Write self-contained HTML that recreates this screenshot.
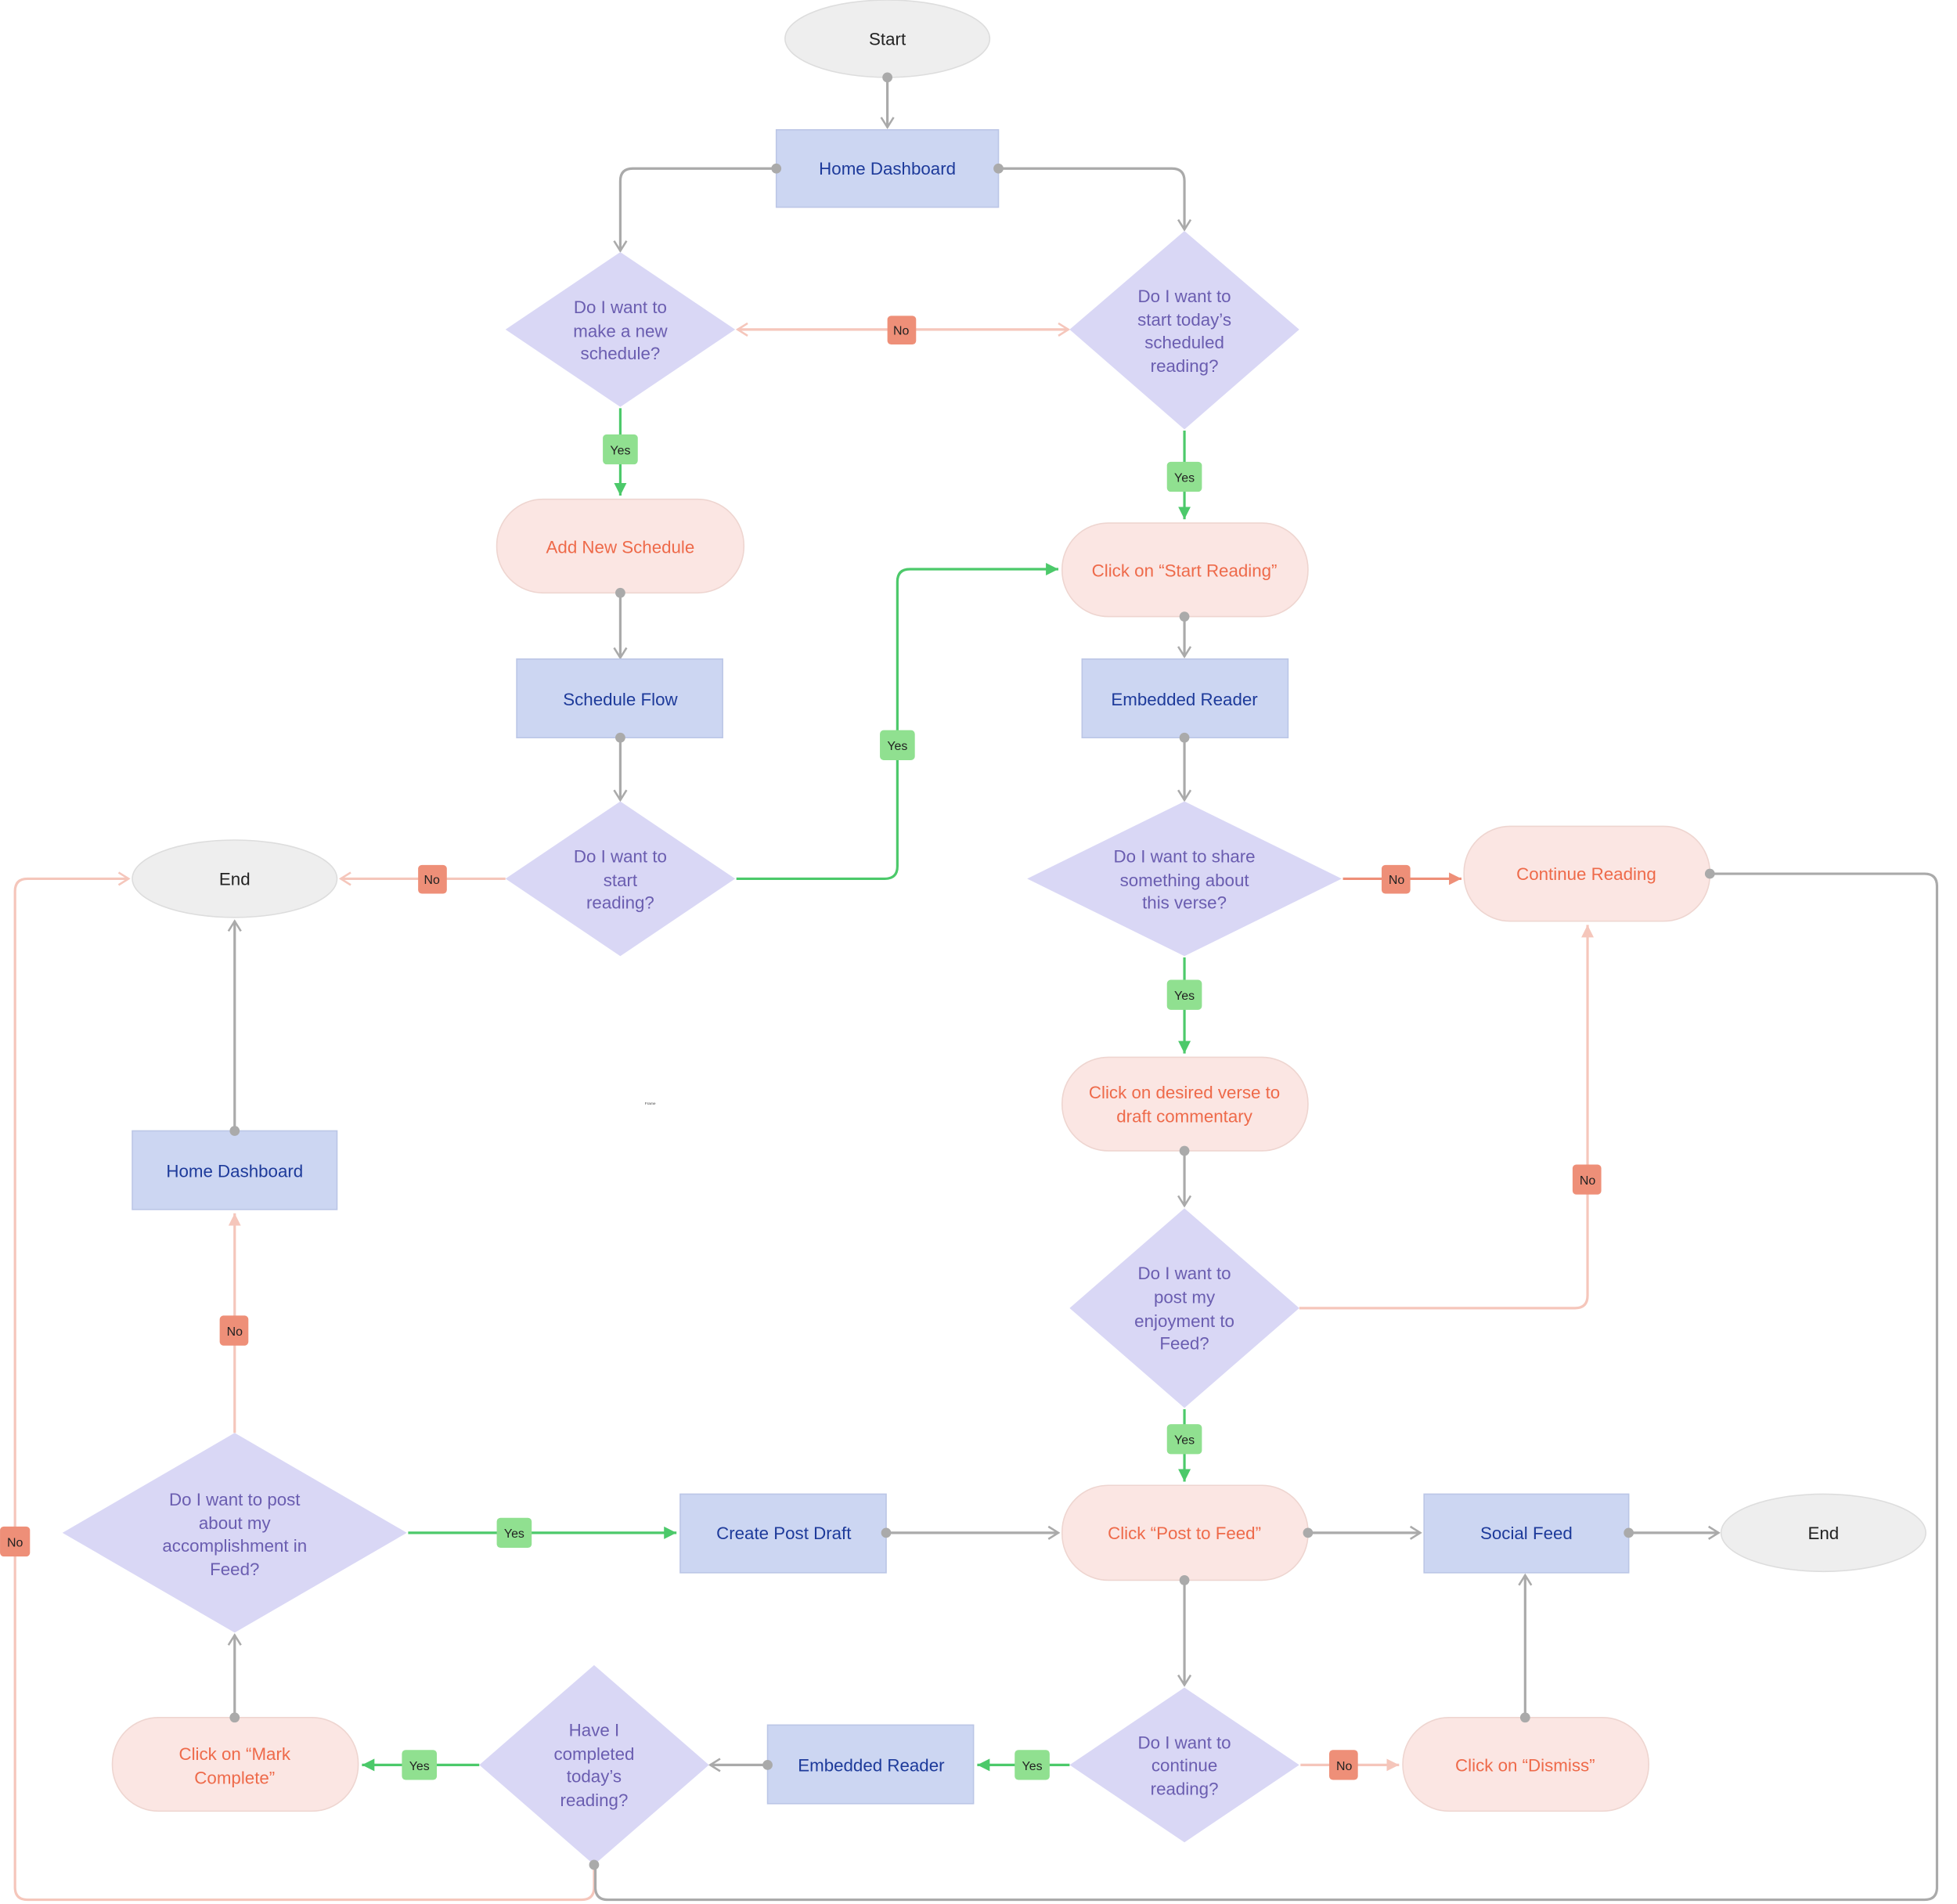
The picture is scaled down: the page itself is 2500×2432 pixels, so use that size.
<!DOCTYPE html>
<html><head><meta charset="utf-8"><style>
html,body{margin:0;padding:0;background:#fff;}
svg{display:block;}
text{font-family:"Liberation Sans",sans-serif;}
.q{fill:#6a5db0;font-size:14px;text-anchor:middle;}
.p{fill:#ee6a4a;font-size:14px;text-anchor:middle;}
.b{fill:#1d3a9a;font-size:14px;text-anchor:middle;}
.e{fill:#222;font-size:14px;text-anchor:middle;}
.t{fill:#222;font-size:10px;text-anchor:middle;}
.g{fill:none;stroke:#aaa;stroke-width:2;}
.gr{fill:none;stroke:#4cc96a;stroke-width:2;}
.pk{fill:none;stroke:#f5c6bb;stroke-width:2;}
</style></head><body>
<svg width="2500" height="2432" viewBox="0 0 1568 1525.4" xmlns="http://www.w3.org/2000/svg">
<defs>
<marker id="ag" markerWidth="12" markerHeight="12" refX="10" refY="6" orient="auto" markerUnits="userSpaceOnUse"><path d="M2,1 L10,6 L2,11" fill="none" stroke="#aaa" stroke-width="1.6"/></marker>
<marker id="ap" markerWidth="12" markerHeight="12" refX="10" refY="6" orient="auto" markerUnits="userSpaceOnUse"><path d="M2,1 L10,6 L2,11" fill="none" stroke="#f5c6bb" stroke-width="1.6"/></marker>
<marker id="agr" markerWidth="12" markerHeight="12" refX="10" refY="5" orient="auto" markerUnits="userSpaceOnUse"><path d="M0,0 L10,5 L0,10z" fill="#4cc96a"/></marker>
<marker id="as" markerWidth="12" markerHeight="12" refX="10" refY="5" orient="auto" markerUnits="userSpaceOnUse"><path d="M0,0 L10,5 L0,10z" fill="#ee8f78"/></marker>
<marker id="aps" markerWidth="12" markerHeight="12" refX="10" refY="5" orient="auto" markerUnits="userSpaceOnUse"><path d="M0,0 L10,5 L0,10z" fill="#f5c6bb"/></marker>
</defs>

<!-- connectors -->
<g>
<path class="g" d="M711,62 V102" marker-end="url(#ag)"/>
<path class="g" d="M622,135 H507 Q497,135 497,145 V201" marker-end="url(#ag)"/>
<path class="g" d="M800,135 H939 Q949,135 949,145 V184" marker-end="url(#ag)"/>
<path class="pk" d="M722,264 H591" marker-end="url(#ap)"/>
<path class="pk" d="M722,264 H856" marker-end="url(#ap)"/>
<path class="gr" d="M497,327 V397" marker-end="url(#agr)"/>
<path class="gr" d="M949,345 V416" marker-end="url(#agr)"/>
<path class="g" d="M497,475 V527" marker-end="url(#ag)"/>
<path class="g" d="M497,591 V641" marker-end="url(#ag)"/>
<path class="gr" d="M590,704 H709 Q719,704 719,694 V466 Q719,456 729,456 H848" marker-end="url(#agr)"/>
<path class="pk" d="M405,704 H273" marker-end="url(#ap)"/>
<path class="g" d="M949,494 V526" marker-end="url(#ag)"/>
<path class="g" d="M949,591 V641" marker-end="url(#ag)"/>
<path d="M1076,704 H1171" fill="none" stroke="#ee8f78" stroke-width="2" marker-end="url(#as)"/>
<path class="gr" d="M949,767 V844" marker-end="url(#agr)"/>
<path class="g" d="M949,922 V966" marker-end="url(#ag)"/>
<path class="pk" d="M1041,1048 H1262 Q1272,1048 1272,1038 V741" marker-end="url(#aps)"/>
<path class="gr" d="M949,1129 V1187" marker-end="url(#agr)"/>
<path class="g" d="M188,906 V738" marker-end="url(#ag)"/>
<path class="pk" d="M188,1148 V972" marker-end="url(#aps)"/>
<path class="gr" d="M327,1228 H542" marker-end="url(#agr)"/>
<path class="g" d="M710,1228 H848" marker-end="url(#ag)"/>
<path class="g" d="M1048,1228 H1138" marker-end="url(#ag)"/>
<path class="g" d="M1305,1228 H1377" marker-end="url(#ag)"/>
<path class="g" d="M949,1266 V1350" marker-end="url(#ag)"/>
<path class="gr" d="M857,1414 H783" marker-end="url(#agr)"/>
<path class="pk" d="M1042,1414 H1121" marker-end="url(#aps)"/>
<path class="g" d="M1222,1376 V1262" marker-end="url(#ag)"/>
<path class="g" d="M615,1414 H569" marker-end="url(#ag)"/>
<path class="gr" d="M384,1414 H290" marker-end="url(#agr)"/>
<path class="g" d="M188,1376 V1310" marker-end="url(#ag)"/>
<path class="pk" d="M476,1494 V1512 Q476,1522 466,1522 H22 Q12,1522 12,1512 V714 Q12,704 22,704 H103" marker-end="url(#ap)"/>
<path class="g" d="M1370,700 H1542 Q1552,700 1552,710 V1512 Q1552,1522 1542,1522 H487 Q477,1522 477,1512 V1494"/>
</g>

<!-- nodes -->
<ellipse cx="711" cy="31" rx="82" ry="31" fill="#eeeeee" stroke="#ddd"/>
<text class="e" x="711" y="36">Start</text>
<rect x="622" y="104" width="178" height="62" fill="#ccd6f2" stroke="#bbc6e6"/>
<text class="b" x="711" y="140">Home Dashboard</text>

<polygon points="497,202 589,264 497,326 405,264" fill="#d9d7f5"/>
<text class="q" x="497" y="251">Do I want to</text><text class="q" x="497" y="270">make a new</text><text class="q" x="497" y="288">schedule?</text>
<polygon points="949,185 1041,264 949,344 857,264" fill="#d9d7f5"/>
<text class="q" x="949" y="242">Do I want to</text><text class="q" x="949" y="261">start today’s</text><text class="q" x="949" y="279">scheduled</text><text class="q" x="949" y="298">reading?</text>

<rect x="398" y="400" width="198" height="75" rx="37" fill="#fbe6e3" stroke="#eed5d0"/>
<text class="p" x="497" y="443">Add New Schedule</text>
<rect x="414" y="528" width="165" height="63" fill="#ccd6f2" stroke="#bbc6e6"/>
<text class="b" x="497" y="565">Schedule Flow</text>
<polygon points="497,642 589,704 497,766 405,704" fill="#d9d7f5"/>
<text class="q" x="497" y="691">Do I want to</text><text class="q" x="497" y="710">start</text><text class="q" x="497" y="728">reading?</text>
<ellipse cx="188" cy="704" rx="82" ry="31" fill="#eeeeee" stroke="#ddd"/>
<text class="e" x="188" y="709">End</text>

<rect x="851" y="419" width="197" height="75" rx="37" fill="#fbe6e3" stroke="#eed5d0"/>
<text class="p" x="949" y="462">Click on “Start Reading”</text>
<rect x="867" y="528" width="165" height="63" fill="#ccd6f2" stroke="#bbc6e6"/>
<text class="b" x="949" y="565">Embedded Reader</text>
<polygon points="949,642 1075,704 949,766 823,704" fill="#d9d7f5"/>
<text class="q" x="949" y="691">Do I want to share</text><text class="q" x="949" y="710">something about</text><text class="q" x="949" y="728">this verse?</text>
<rect x="1173" y="662" width="197" height="76" rx="37" fill="#fbe6e3" stroke="#eed5d0"/>
<text class="p" x="1271" y="705">Continue Reading</text>
<rect x="851" y="847" width="197" height="75" rx="37" fill="#fbe6e3" stroke="#eed5d0"/>
<text class="p" x="949" y="880">Click on desired verse to</text><text class="p" x="949" y="899">draft commentary</text>
<polygon points="949,968 1041,1048 949,1128 857,1048" fill="#d9d7f5"/>
<text class="q" x="949" y="1025">Do I want to</text><text class="q" x="949" y="1044">post my</text><text class="q" x="949" y="1063">enjoyment to</text><text class="q" x="949" y="1081">Feed?</text>
<text x="521" y="885" font-size="3" fill="#444" text-anchor="middle">Frame</text>

<rect x="106" y="906" width="164" height="63" fill="#ccd6f2" stroke="#bbc6e6"/>
<text class="b" x="188" y="943">Home Dashboard</text>
<polygon points="188,1148 326,1228 188,1308 50,1228" fill="#d9d7f5"/>
<text class="q" x="188" y="1206">Do I want to post</text><text class="q" x="188" y="1225">about my</text><text class="q" x="188" y="1243">accomplishment in</text><text class="q" x="188" y="1262">Feed?</text>
<rect x="545" y="1197" width="165" height="63" fill="#ccd6f2" stroke="#bbc6e6"/>
<text class="b" x="628" y="1233">Create Post Draft</text>
<rect x="851" y="1190" width="197" height="76" rx="37" fill="#fbe6e3" stroke="#eed5d0"/>
<text class="p" x="949" y="1233">Click “Post to Feed”</text>
<rect x="1141" y="1197" width="164" height="63" fill="#ccd6f2" stroke="#bbc6e6"/>
<text class="b" x="1223" y="1233">Social Feed</text>
<ellipse cx="1461" cy="1228" rx="82" ry="31" fill="#eeeeee" stroke="#ddd"/>
<text class="e" x="1461" y="1233">End</text>

<polygon points="949,1352 1041,1414 949,1476 857,1414" fill="#d9d7f5"/>
<text class="q" x="949" y="1401">Do I want to</text><text class="q" x="949" y="1419">continue</text><text class="q" x="949" y="1438">reading?</text>
<rect x="615" y="1382" width="165" height="63" fill="#ccd6f2" stroke="#bbc6e6"/>
<text class="b" x="698" y="1419">Embedded Reader</text>
<polygon points="476,1334 568,1414 476,1494 384,1414" fill="#d9d7f5"/>
<text class="q" x="476" y="1391">Have I</text><text class="q" x="476" y="1410">completed</text><text class="q" x="476" y="1428">today’s</text><text class="q" x="476" y="1447">reading?</text>
<rect x="90" y="1376" width="197" height="75" rx="37" fill="#fbe6e3" stroke="#eed5d0"/>
<text class="p" x="188" y="1410">Click on “Mark</text><text class="p" x="188" y="1429">Complete”</text>
<rect x="1124" y="1376" width="197" height="75" rx="37" fill="#fbe6e3" stroke="#eed5d0"/>
<text class="p" x="1222" y="1419">Click on “Dismiss”</text>

<!-- dots -->
<g fill="#aaa">
<circle cx="711" cy="62" r="4"/><circle cx="622" cy="135" r="4"/><circle cx="800" cy="135" r="4"/>
<circle cx="497" cy="475" r="4"/><circle cx="497" cy="591" r="4"/><circle cx="949" cy="494" r="4"/>
<circle cx="949" cy="591" r="4"/><circle cx="949" cy="922" r="4"/><circle cx="1370" cy="700" r="4"/>
<circle cx="188" cy="906" r="4"/><circle cx="710" cy="1228" r="4"/><circle cx="1048" cy="1228" r="4"/>
<circle cx="1305" cy="1228" r="4"/><circle cx="949" cy="1266" r="4"/><circle cx="1222" cy="1376" r="4"/>
<circle cx="615" cy="1414" r="4"/><circle cx="188" cy="1376" r="4"/><circle cx="476" cy="1494" r="4"/>
</g>

<!-- tags -->
<g>
<rect x="711" y="253" width="23" height="23" rx="3" fill="#ee8f78"/><text class="t" x="722" y="268">No</text>
<rect x="483" y="348" width="28" height="24" rx="3" fill="#90e090"/><text class="t" x="497" y="364">Yes</text>
<rect x="935" y="370" width="28" height="24" rx="3" fill="#90e090"/><text class="t" x="949" y="386">Yes</text>
<rect x="705" y="585" width="28" height="24" rx="3" fill="#90e090"/><text class="t" x="719" y="601">Yes</text>
<rect x="335" y="693" width="23" height="23" rx="3" fill="#ee8f78"/><text class="t" x="346" y="708">No</text>
<rect x="1107" y="693" width="23" height="23" rx="3" fill="#ee8f78"/><text class="t" x="1119" y="708">No</text>
<rect x="935" y="785" width="28" height="24" rx="3" fill="#90e090"/><text class="t" x="949" y="801">Yes</text>
<rect x="1260" y="933" width="23" height="24" rx="3" fill="#ee8f78"/><text class="t" x="1272" y="949">No</text>
<rect x="935" y="1141" width="28" height="24" rx="3" fill="#90e090"/><text class="t" x="949" y="1157">Yes</text>
<rect x="176" y="1054" width="23" height="24" rx="3" fill="#ee8f78"/><text class="t" x="188" y="1070">No</text>
<rect x="398" y="1216" width="28" height="24" rx="3" fill="#90e090"/><text class="t" x="412" y="1232">Yes</text>
<rect x="813" y="1402" width="28" height="24" rx="3" fill="#90e090"/><text class="t" x="827" y="1418">Yes</text>
<rect x="1065" y="1402" width="23" height="24" rx="3" fill="#ee8f78"/><text class="t" x="1077" y="1418">No</text>
<rect x="322" y="1402" width="28" height="24" rx="3" fill="#90e090"/><text class="t" x="336" y="1418">Yes</text>
<rect x="0" y="1223" width="24" height="24" rx="3" fill="#ee8f78"/><text class="t" x="12" y="1239">No</text>
</g>
</svg>
</body></html>
